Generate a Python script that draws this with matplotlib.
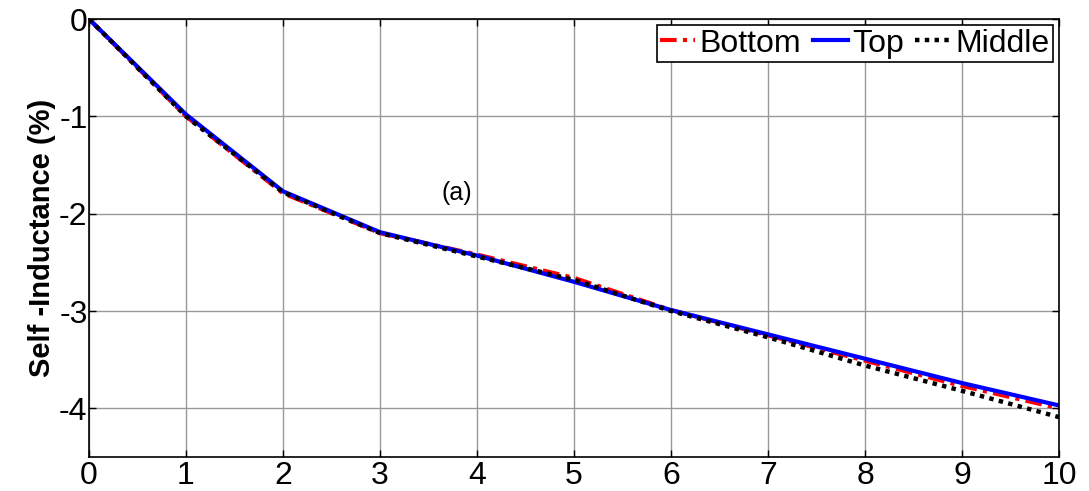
import matplotlib
matplotlib.use('Agg')
import matplotlib.pyplot as plt

plt.rcParams['font.family'] = ['Liberation Sans', 'DejaVu Sans']

# data
x = [0, 1, 2, 3, 4, 5, 6, 7, 8, 9, 10]
bottom = [0, -1.00, -1.79, -2.20, -2.42, -2.66, -2.99, -3.25, -3.51, -3.77, -4.00]
top = [0, -0.98, -1.77, -2.19, -2.43, -2.70, -2.99, -3.24, -3.49, -3.74, -3.97]
middle = [0, -1.00, -1.78, -2.20, -2.44, -2.68, -3.00, -3.27, -3.56, -3.82, -4.09]

xticks = list(range(0, 11))
yticks = [0, -1, -2, -3, -4]

fig = plt.figure(figsize=(10.89, 4.91), dpi=100)
ax = fig.add_axes([0.0817, 0.0692, 0.9725 - 0.0817, 0.9613 - 0.0692])

ax.plot(x, bottom, color='red', linestyle=(0, (4, 1.5, 1, 1.5)), linewidth=3, label='Bottom')
ax.plot(x, top, color='blue', linestyle='-', linewidth=3, label='Top')
ax.plot(x, middle, color='black', linestyle=(0, (1, 1.2)), linewidth=3.2, label='Middle')

ax.set_xlim(0, 10)
ax.set_ylim(-4.5, 0)
ax.set_xticks(xticks)
ax.set_yticks(yticks)
ax.set_yticklabels([str(v) for v in yticks])
ax.tick_params(direction='in', length=5, top=True, right=True, labelsize=23, width=1)
ax.tick_params(axis='x', pad=3)
ax.tick_params(axis='y', pad=1)
ax.grid(True, color='#999999', linewidth=1)
for s in ax.spines.values():
    s.set_linewidth(1.2)

ax.set_ylabel('Self -Inductance (%)', fontsize=21, fontweight='bold', labelpad=2)
ax.text(3.79, -1.79, '(a)', fontsize=18, ha='center', va='center')

leg = ax.legend(loc='upper right', ncol=3, fontsize=23, frameon=True, fancybox=False,
                edgecolor='black', framealpha=1, handlelength=1.1, handletextpad=0.15,
                columnspacing=0.35, borderpad=0.1, borderaxespad=0.2)
leg.get_frame().set_linewidth(1.2)

fig.savefig('out.png', dpi=100)
